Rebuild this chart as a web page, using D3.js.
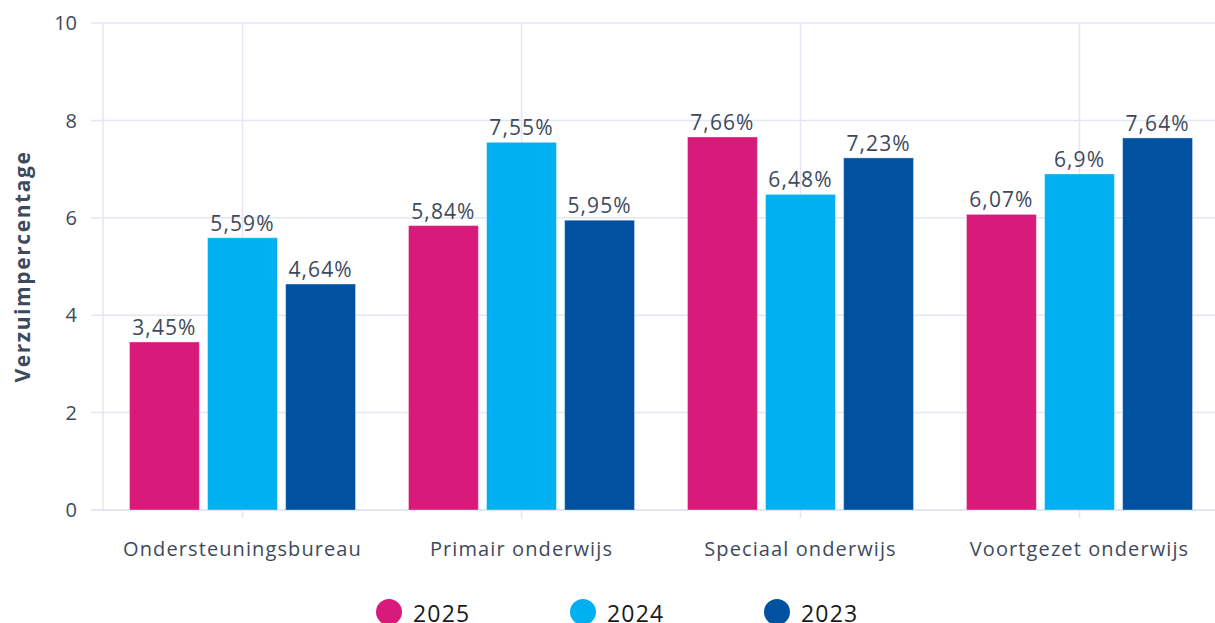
<!DOCTYPE html>
<html>
<head>
<meta charset="utf-8">
<script src="https://cdn.jsdelivr.net/npm/d3@7"></script>
<style>
  body { margin: 0; background: #fff; }
  svg { font-family: "Open Sans", sans-serif; }
</style>
</head>
<body>
<div id="chart"></div>
<script>
// data
const categories = [`Ondersteuningsbureau`, `Primair onderwijs`, `Speciaal onderwijs`, `Voortgezet onderwijs`];
const years = [`2025`, `2024`, `2023`];
const values2025 = [3.45, 5.84, 7.66, 6.07];
const values2024 = [5.59, 7.55, 6.48, 6.9];
const values2023 = [4.64, 5.95, 7.23, 7.64];
const yTicks = [0, 2, 4, 6, 8, 10];
const colors = [`#d81b7b`, `#00b0f0`, `#0052a0`];

const seriesValues = [values2025, values2024, values2023];

const W = 1215, H = 623;
const margin = { top: 23, left: 103, bottom: 113 };
const plotRight = 1219;

let svg = d3.select(`#chart`).append(`svg`)
    .attr(`width`, W)
    .attr(`height`, H);

let x = d3.scaleBand().domain(categories).range([margin.left, plotRight]).paddingInner(0.19).paddingOuter(0.095);
let xs = d3.scaleBand().domain(years).range([0, x.bandwidth()]).paddingInner(0.105);
let y = d3.scaleLinear().domain([0, 10]).range([H - margin.bottom, margin.top]);

// horizontal grid
svg.append(`g`)
    .selectAll(`line`)
    .data(yTicks)
    .enter()
    .append(`line`)
    .attr(`x1`, 91)
    .attr(`x2`, W)
    .attr(`y1`, d => y(d))
    .attr(`y2`, d => y(d))
    .attr(`stroke`, `#e3e6f3`)
    .attr(`stroke-width`, d => d === 0 ? 2 : 1.5);

// vertical grid
const vLines = [margin.left].concat(categories.map(c => x(c) + x.bandwidth() / 2));
svg.append(`g`)
    .selectAll(`line`)
    .data(vLines)
    .enter()
    .append(`line`)
    .attr(`x1`, d => d)
    .attr(`x2`, d => d)
    .attr(`y1`, y(10))
    .attr(`y2`, (d, i) => i === 0 ? y(0) : y(0) + 8)
    .attr(`stroke`, `#e3e6f3`)
    .attr(`stroke-width`, 1.5);

// y tick labels
svg.append(`g`)
    .selectAll(`text`)
    .data(yTicks)
    .enter()
    .append(`text`)
    .attr(`x`, 77)
    .attr(`y`, d => y(d))
    .attr(`dy`, `0.36em`)
    .attr(`text-anchor`, `end`)
    .attr(`fill`, `#3e4a5c`)
    .style(`font-size`, `20px`)
    .text(d => d);

// y label
svg.append(`text`)
    .attr(`transform`, `translate(30,${(y(0) + y(10)) / 2}) rotate(-90)`)
    .attr(`text-anchor`, `middle`)
    .attr(`fill`, `#3e4a5c`)
    .style(`font-size`, `21px`)
    .style(`font-weight`, `bold`)
    .style(`letter-spacing`, `1.6px`)
    .text(`Verzuimpercentage`);

// x labels
svg.append(`g`)
    .selectAll(`text`)
    .data(categories)
    .enter()
    .append(`text`)
    .attr(`x`, d => x(d) + x.bandwidth() / 2)
    .attr(`y`, 556)
    .attr(`text-anchor`, `middle`)
    .attr(`fill`, `#3e4a5c`)
    .style(`font-size`, `20px`)
    .style(`letter-spacing`, `1.1px`)
    .text(d => d);

// bars
const fmt = v => String(v).replace(`.`, `,`) + `%`;
years.forEach((yr, si) => {
    let g = svg.append(`g`).attr(`class`, `series s${yr}`);
    g.selectAll(`rect`)
        .data(seriesValues[si])
        .enter()
        .append(`rect`)
        .attr(`x`, (d, i) => x(categories[i]) + xs(yr))
        .attr(`y`, d => y(d))
        .attr(`width`, xs.bandwidth())
        .attr(`height`, d => y(0) - y(d))
        .attr(`fill`, colors[si])
        .attr(`stroke`, `rgba(255,255,255,0.35)`)
        .attr(`stroke-width`, 1);
    g.selectAll(`text`)
        .data(seriesValues[si])
        .enter()
        .append(`text`)
        .attr(`x`, (d, i) => x(categories[i]) + xs(yr) + xs.bandwidth() / 2)
        .attr(`y`, d => y(d) - 7)
        .attr(`text-anchor`, `middle`)
        .attr(`fill`, `#3e4a5c`)
        .style(`font-size`, `21px`)
        .style(`letter-spacing`, `1.1px`)
        .text(d => fmt(d));
});

// legend
let legend = svg.append(`g`).selectAll(`g`)
    .data(years)
    .enter()
    .append(`g`)
    .attr(`transform`, (d, i) => `translate(${389 + i * 194},612)`);
legend.append(`circle`)
    .attr(`r`, 13)
    .attr(`fill`, (d, i) => colors[i]);
legend.append(`text`)
    .attr(`x`, 24)
    .attr(`dy`, `0.42em`)
    .attr(`fill`, `#1a1a1a`)
    .style(`font-size`, `23px`)
    .style(`letter-spacing`, `1.2px`)
    .text(d => d);
</script>
</body>
</html>
